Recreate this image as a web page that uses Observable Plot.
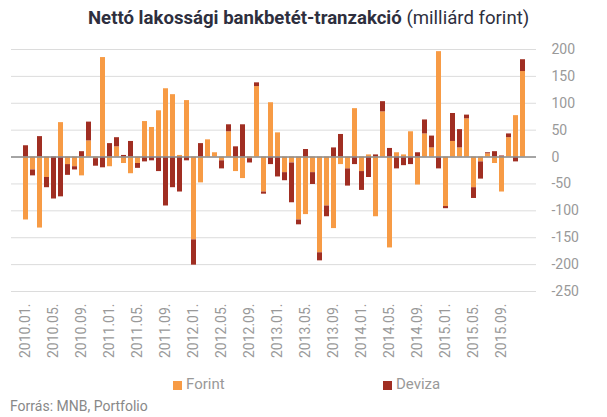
<!DOCTYPE html>
<html><head><meta charset="utf-8">
<script src="https://cdn.jsdelivr.net/npm/d3@7"></script>
<script src="https://cdn.jsdelivr.net/npm/@observablehq/plot@0.6"></script>
<style>
body{margin:0;width:607px;height:417px;position:relative;font-family:Roboto,sans-serif;background:#fff;overflow:hidden}
#title{position:absolute;left:88px;top:5px;white-space:nowrap;font-size:18.6px;color:#2e2f3e;line-height:26px}
#title b{font-weight:700}
#chart{position:absolute;left:0;top:0}
.leg{position:absolute;top:374px;font-size:15px;color:#999;line-height:20px}
.sw{display:inline-block;width:9px;height:9px;margin-right:4px;vertical-align:-1px}
#caption{position:absolute;left:10px;top:396px;font-size:14px;color:#888;line-height:20px}
</style></head><body>
<div id="title"><b>Nettó lakossági bankbetét-tranzakció</b> (milliárd forint)</div>
<div id="chart"></div>
<div class="leg" style="left:173px"><span class="sw" style="background:#F79B45"></span>Forint</div>
<div class="leg" style="left:383px"><span class="sw" style="background:#A02E22"></span>Deviza</div>
<div id="caption">Forrás: MNB, Portfolio</div>
<script>
const months = [
"2010.01.","2010.02.","2010.03.","2010.04.","2010.05.","2010.06.","2010.07.","2010.08.","2010.09.","2010.10.","2010.11.","2010.12.",
"2011.01.","2011.02.","2011.03.","2011.04.","2011.05.","2011.06.","2011.07.","2011.08.","2011.09.","2011.10.","2011.11.","2011.12.",
"2012.01.","2012.02.","2012.03.","2012.04.","2012.05.","2012.06.","2012.07.","2012.08.","2012.09.","2012.10.","2012.11.","2012.12.",
"2013.01.","2013.02.","2013.03.","2013.04.","2013.05.","2013.06.","2013.07.","2013.08.","2013.09.","2013.10.","2013.11.","2013.12.",
"2014.01.","2014.02.","2014.03.","2014.04.","2014.05.","2014.06.","2014.07.","2014.08.","2014.09.","2014.10.","2014.11.","2014.12.",
"2015.01.","2015.02.","2015.03.","2015.04.","2015.05.","2015.06.","2015.07.","2015.08.","2015.09.","2015.10.","2015.11.","2015.12."
];
const forint = [
-117,-24,-132,-38,0,64,-14,-18,-35,30,-3,185,
-18,19,-12,-31,-12,66,55,86,127,116,3,105,
-154,-48,32,8,-7,47,-27,-40,-3,131,-65,101,
45,-29,-11,-117,-107,-29,-178,-91,-133,-14,-22,90,
-27,4,-111,84,-169,8,4,47,-52,43,17,196,
-92,29,17,71,-57,-9,6,-12,-65,36,77,159
];
const deviza = [
21,-11,38,-19,-78,-74,-20,-6,10,35,-14,-20,
25,17,3,29,-9,-9,-7,-27,-91,-57,-65,-7,
-47,25,0,0,-15,13,19,60,-8,7,-4,-14,
-37,-15,-74,-9,14,-22,-15,-20,17,42,-32,-14,
-35,-38,4,19,16,-22,-16,-14,8,26,22,-22,
-4,52,34,7,-20,-32,2,10,2,7,-9,22
];
const seriesNames = ["Forint","Deviza"];
const seriesColors = ["#F79B45","#A02E22"];
const tickLabels = ["2010.01.","2010.05.","2010.09.","2011.01.","2011.05.","2011.09.","2012.01.","2012.05.","2012.09.","2013.01.","2013.05.","2013.09.","2014.01.","2014.05.","2014.09.","2015.01.","2015.05.","2015.09."];
const yTicks = [200,150,100,50,0,-50,-100,-150,-200,-250];

const rows = [];
months.forEach((m,i)=>{
  rows.push({month:m, series:"Forint", value:forint[i]});
  rows.push({month:m, series:"Deviza", value:deviza[i]});
});

const chart = Plot.plot({
  width: 607,
  height: 370,
  marginTop: 49,
  marginBottom: 79,
  marginLeft: 11,
  marginRight: 71,
  style: {fontFamily: "Roboto, sans-serif", fontSize: "14px", color: "#999", background: "transparent"},
  x: {type: "band", domain: months, padding: 0.3},
  y: {domain: [-250, 200]},
  color: {domain: seriesNames, range: seriesColors},
  marks: [
    Plot.gridY(yTicks, {stroke: "#dcdcdc", strokeOpacity: 1}),
    Plot.barY(rows, {x: "month", y: "value", fill: "series"}),
    Plot.ruleY([0], {stroke: "#8c8c8c", strokeWidth: 1.5}),
    Plot.axisY(yTicks, {anchor: "right", tickSize: 0, tickPadding: 15, tickFormat: d => String(d), label: null}),
    Plot.axisX(tickLabels, {anchor: "bottom", tickSize: 0, tickPadding: 12, tickRotate: -90, label: null})
  ]
});
document.getElementById("chart").appendChild(chart);
</script>
</body></html>
